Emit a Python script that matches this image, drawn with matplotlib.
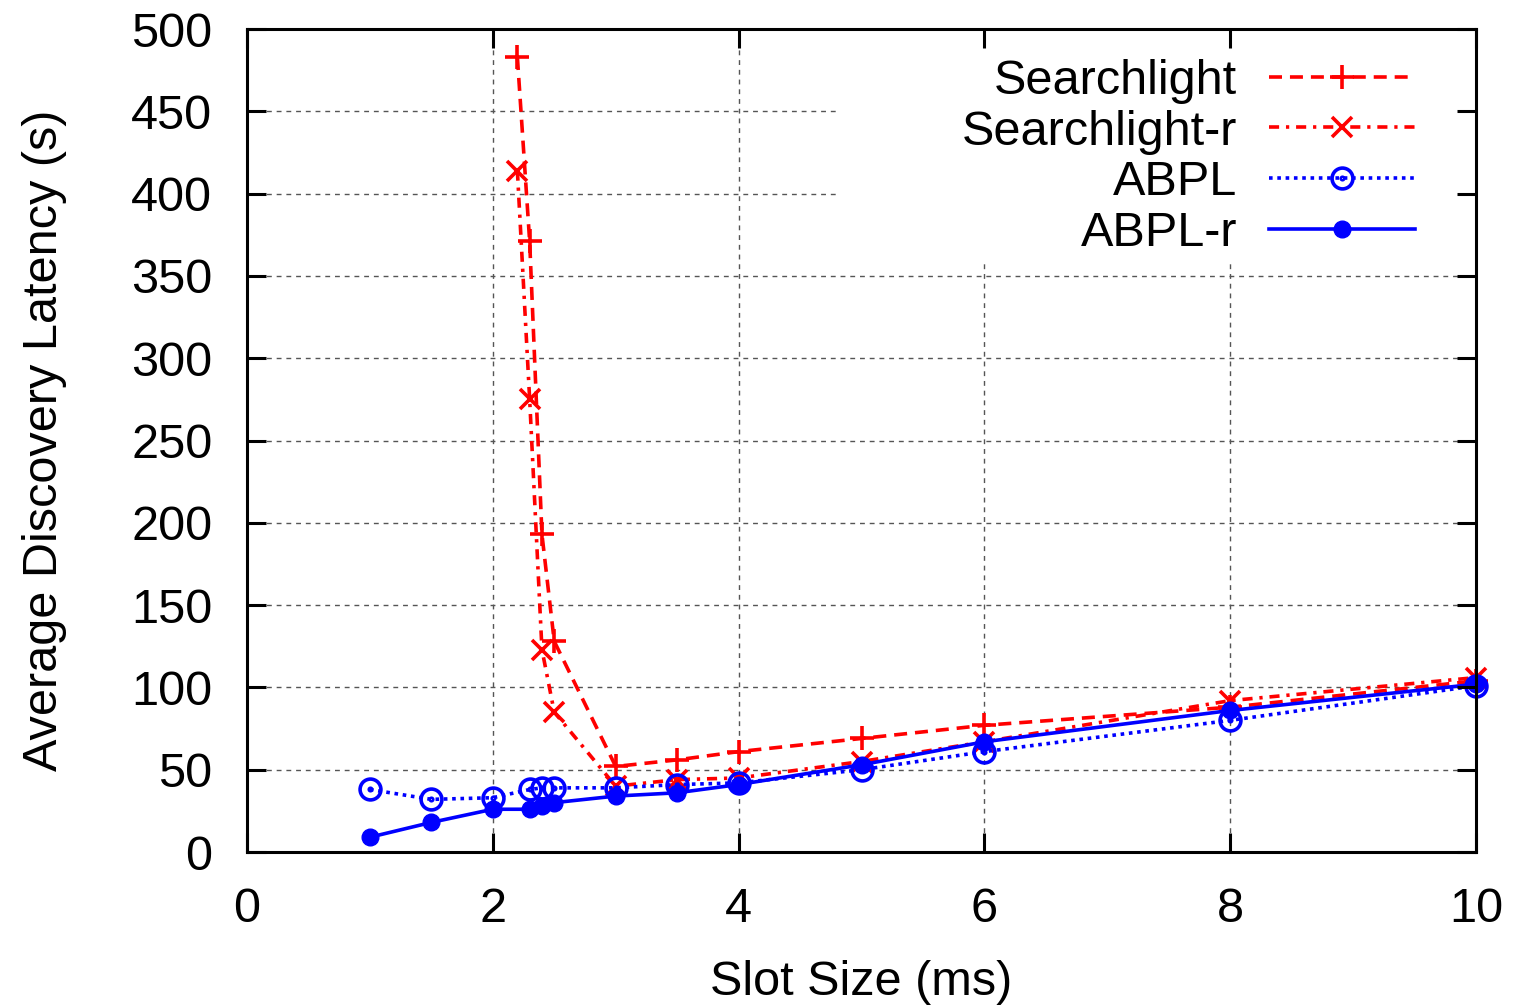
import matplotlib
matplotlib.use('Agg')
import matplotlib.pyplot as plt
from matplotlib.path import Path
from matplotlib.patches import Rectangle

# values
sl_x = [2.2, 2.3, 2.4, 2.5, 3, 3.5, 4, 5, 6, 8, 10]
sl_y = [483, 371, 193, 128, 52, 56, 61, 69, 77, 88, 104]

slr_x = [2.2, 2.3, 2.4, 2.5, 3, 3.5, 4, 5, 6, 8, 10]
slr_y = [414, 275, 123, 85, 40, 44, 45, 55, 67, 92, 106]

abpl_x = [1, 1.5, 2, 2.3, 2.4, 2.5, 3, 3.5, 4, 5, 6, 8, 10]
abpl_y = [38, 32, 33, 38, 39, 39, 39, 41, 42, 50, 61, 80, 101]

abplr_x = [1, 1.5, 2, 2.3, 2.4, 2.5, 3, 3.5, 4, 5, 6, 8, 10]
abplr_y = [9, 18, 26, 26, 28, 30, 34, 36, 41, 53, 67, 86, 102]

x_ticks = [0, 2, 4, 6, 8, 10]
y_ticks = [0, 50, 100, 150, 200, 250, 300, 350, 400, 450, 500]

plt.rcParams['font.family'] = ['Liberation Sans', 'DejaVu Sans']
plt.rcParams['font.size'] = 35

fig = plt.figure(figsize=(15.19, 10.05), dpi=100)
rect = [0.1626, 0.1522, 0.8091, 0.8189]
ax = fig.add_axes(rect)

# gnuplot style circle with a dot in the middle
dot_circle = Path.make_compound_path(Path.circle((0, 0), 1.0), Path.circle((0, 0), 0.12))

lw = 2.6
ax.plot(sl_x, sl_y, color='#ff0000', lw=lw, linestyle=(0, (3.6, 2.2)),
        marker='+', markersize=17, markeredgewidth=lw, clip_on=False, label='Searchlight')
ax.plot(slr_x, slr_y, color='#ff0000', lw=lw, linestyle=(0, (2.8, 1.9, 0.9, 1.9)),
        marker='x', markersize=14, markeredgewidth=lw, clip_on=False, label='Searchlight-r')
ax.plot(abpl_x, abpl_y, color='#0000ff', lw=lw, linestyle=(0, (1, 1.3)),
        marker=dot_circle, markersize=15, markerfacecolor='none', markeredgewidth=lw,
        clip_on=False, label='ABPL')
ax.plot(abplr_x, abplr_y, color='#0000ff', lw=lw, linestyle='-',
        marker='o', markersize=12, clip_on=False, label='ABPL-r')

ax.set_xlim(0, 10)
ax.set_ylim(0, 500)
ax.set_xticks(x_ticks)
ax.set_yticks(y_ticks)
ax.grid(True, color='#555555', linestyle=(0, (3.5, 3.5)), linewidth=1.0)
ax.set_axisbelow(True)
ax.tick_params(length=0, pad=25)

# white area of the key box hides the grid there
ax.add_patch(Rectangle((0.4825, 0.717), 0.5175, 0.283, transform=ax.transAxes,
                       facecolor='white', edgecolor='none', zorder=1))

for s in ax.spines.values():
    s.set_visible(False)

ax.set_xlabel('Slot Size (ms)', labelpad=20)
ax.set_ylabel('Average Discovery Latency (s)', labelpad=46)

leg = ax.legend(loc='upper right', bbox_to_anchor=(0.9504, 0.964), markerfirst=False,
                numpoints=1, frameon=False, handlelength=3.0, handletextpad=0.66,
                labelspacing=0.12, borderaxespad=0, borderpad=0)

# overlay axes for the border and inward tick marks, drawn above the key area
ax_t = fig.add_axes(rect, facecolor='none')
ax_t.set_xlim(0, 10)
ax_t.set_ylim(0, 500)
ax_t.set_xticks(x_ticks)
ax_t.set_yticks(y_ticks)
ax_t.tick_params(direction='in', length=14, width=2.2, top=True, right=True,
                 labelbottom=False, labelleft=False)
for s in ax_t.spines.values():
    s.set_linewidth(2.2)

fig.savefig('out.png', dpi=100)
